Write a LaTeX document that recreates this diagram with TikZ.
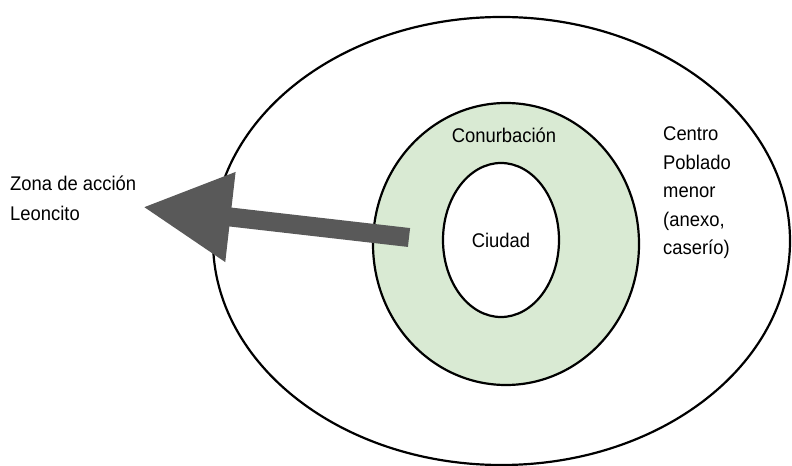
\documentclass[tikz,border=0pt]{standalone}
\usepackage{fontspec}
\setmainfont[FakeStretch=0.93]{Liberation Sans}
\usetikzlibrary{shapes.geometric,arrows.meta}
\definecolor{verdeclaro}{HTML}{D9EAD3}
\definecolor{grisflecha}{HTML}{595959}
\begin{document}
\begin{tikzpicture}[
  x=1bp, y=-1bp,
  zona/.style={ellipse, draw=black, line width=2.2bp, inner sep=0pt},
  etiqueta/.style={inner sep=0pt, font=\fontsize{19.8bp}{28.5bp}\selectfont},
  flecha/.style={draw=grisflecha, line width=19bp, -{Triangle[length=88bp,width=85bp]}}
]
  \useasboundingbox (0,0) rectangle (792,466);

  % Elipses concéntricas
  \node[zona, minimum width=577bp, minimum height=448bp] (poblado) at (501.5,241) {};
  \node[zona, fill=verdeclaro, minimum width=266bp, minimum height=282bp] (conurb) at (506,244) {};
  \node[zona, fill=white, minimum width=116bp, minimum height=154bp] (ciudad) at (501,240) {};

  % Textos
  \node[etiqueta] (tciudad) at (ciudad.center) {Ciudad};
  \node[etiqueta] (tconurb) at (504,135) {Conurbación};
  \node[etiqueta, align=left, anchor=west] (tcentro) at (663,193)
    {Centro\\Poblado\\menor\\(anexo,\\caserío)};
  \node[etiqueta, align=left, anchor=west, font=\fontsize{19.8bp}{30bp}\selectfont] (tzona) at (10,198)
    {Zona de acción\\Leoncito};

  % Flecha hacia la zona de acción
  \coordinate (cola) at (409,237.5);
  \coordinate (punta) at (143,207);
  \draw[flecha] (cola) -- (punta);
\end{tikzpicture}
\end{document}
